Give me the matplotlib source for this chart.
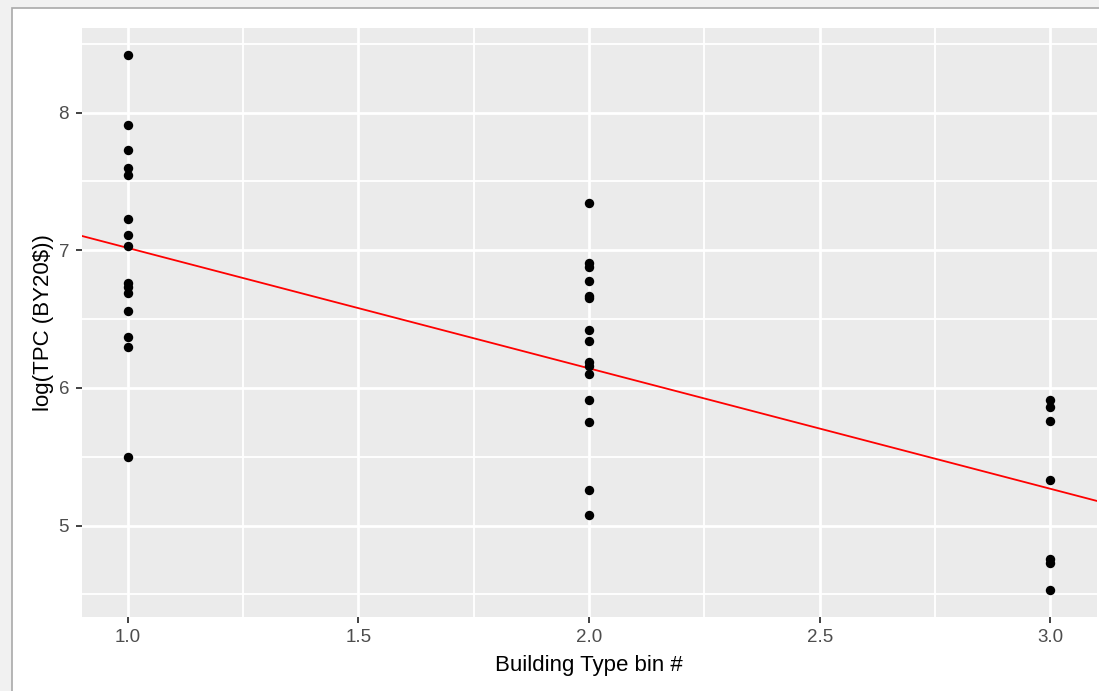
import matplotlib
matplotlib.use("Agg")
import matplotlib.pyplot as plt
from matplotlib.patches import Rectangle
from matplotlib.ticker import FixedLocator
import numpy as np

plt.rcParams['font.family'] = ['Liberation Sans', 'DejaVu Sans']

# values (log total project cost by building type bin)
bin1_y = [8.42, 7.91, 7.73, 7.60, 7.55, 7.23, 7.11, 7.03, 6.76, 6.73, 6.69, 6.56, 6.37, 6.30, 5.50]
bin2_y = [7.34, 6.91, 6.88, 6.78, 6.67, 6.65, 6.42, 6.34, 6.19, 6.16, 6.10, 5.91, 5.75, 5.26, 5.08]
bin3_y = [5.91, 5.86, 5.76, 5.33, 4.76, 4.73, 4.53]
bins = [1, 2, 3]

# fitted line as drawn (abline)
fit_intercept = 7.892
fit_slope = -0.875

x_ticks = [1.0, 1.5, 2.0, 2.5, 3.0]
x_minor = [1.25, 1.75, 2.25, 2.75]
y_ticks = [5, 6, 7, 8]
y_minor = [4.5, 5.5, 6.5, 7.5, 8.5]

xs = np.concatenate([np.full(len(v), b, dtype=float) for b, v in zip(bins, [bin1_y, bin2_y, bin3_y])])
ys = np.concatenate([bin1_y, bin2_y, bin3_y])

W, H = 1099, 691
fig = plt.figure(figsize=(W / 100, H / 100), dpi=100)
fig.patch.set_facecolor('#f1f1f1')
# screenshot window frame
fig.patches.append(Rectangle((12 / W, -0.1), 1.2, (H - 8) / H + 0.1, transform=fig.transFigure,
                             facecolor='white', edgecolor='#a9a9a9', linewidth=1.2, zorder=-5))

ax = fig.add_axes([81.5 / W, (H - 617) / H, 1015 / W, 589 / H])
ax.set_facecolor('#EBEBEB')

# ggplot style expansion (5%)
xr = max(bins) - min(bins)
yr = ys.max() - ys.min()
ax.set_xlim(min(bins) - 0.05 * xr, max(bins) + 0.05 * xr)
ax.set_ylim(ys.min() - 0.05 * yr, ys.max() + 0.05 * yr)

ax.xaxis.set_major_locator(FixedLocator(x_ticks))
ax.xaxis.set_minor_locator(FixedLocator(x_minor))
ax.yaxis.set_major_locator(FixedLocator(y_ticks))
ax.yaxis.set_minor_locator(FixedLocator(y_minor))
ax.set_xticklabels([f"{t:.1f}" for t in x_ticks])
ax.set_yticklabels([str(t) for t in y_ticks])

ax.grid(which='major', color='white', linewidth=2.0)
ax.grid(which='minor', color='white', linewidth=1.3)
ax.set_axisbelow(True)
for s in ax.spines.values():
    s.set_visible(False)

ax.tick_params(which='major', length=4, width=1.3, color='#333333', labelcolor='#4D4D4D',
               labelsize=13.5, pad=5)
ax.tick_params(which='minor', length=0)

ax.scatter(xs, ys, s=46, color='black', linewidths=0, zorder=3)
ax.axline((0, fit_intercept), slope=fit_slope, color='#FF0000', linewidth=1.3, zorder=2)

ax.set_xlabel("Building Type bin #", fontsize=16, color='black', labelpad=6)
ax.set_ylabel("log(TPC (BY20$))", fontsize=16, color='black', labelpad=3)

fig.savefig("out.png", dpi=100, facecolor=fig.get_facecolor())
